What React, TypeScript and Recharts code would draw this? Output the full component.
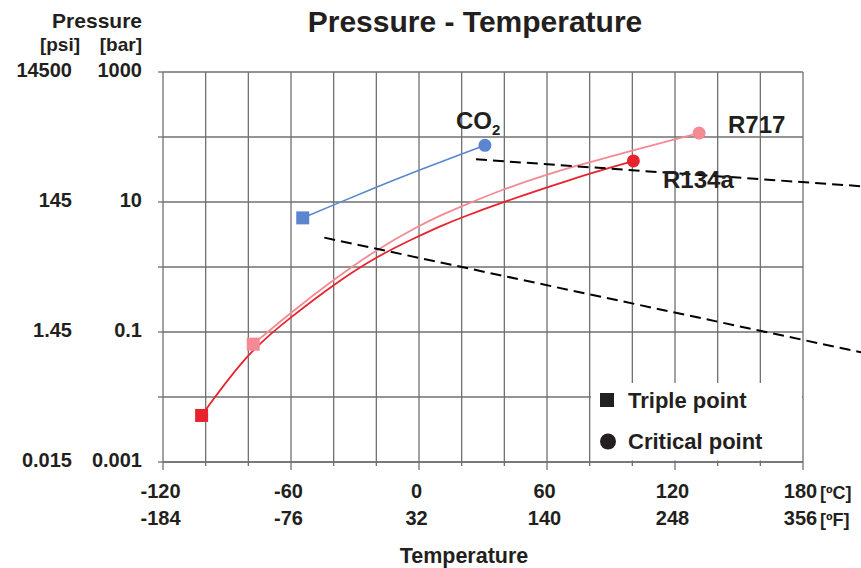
import React from "react";
import { LineChart, Line, XAxis, YAxis, CartesianGrid, ReferenceLine } from "recharts";

// Temperature ticks [°C] and matching [°F] labels
const xTicks = [-120, -100, -80, -60, -40, -20, 0, 20, 40, 60, 80, 100, 120, 140, 160, 180];
const xLabelC = ["-120", "-60", "0", "60", "120", "180"];
const xLabelF = ["-184", "-76", "32", "140", "248", "356"];
const xLabelAt = [-120, -60, 0, 60, 120, 180];

// Pressure ticks [bar] and matching [psi] labels
const yTicks = [0.001, 0.01, 0.1, 1, 10, 100, 1000];
const yLabelAt = [1000, 10, 0.1, 0.001];
const yLabelBar = ["1000", "10", "0.1", "0.001"];
const yLabelPsi = ["14500", "145", "1.45", "0.015"];

// CO2 saturation curve
const co2Temp = [-54.5, -40, -20, 0, 20, 30.9];
const co2Pres = [5.7, 9.0, 17, 31, 55, 74.5];

// R717 saturation curve
const r717Temp = [-77.7, -60, -40, -20, 0, 10, 20, 40, 60, 72, 80, 100, 120, 131.3];
const r717Pres = [0.065, 0.2, 0.64, 1.85, 4.3, 6.2, 8.6, 16, 26.5, 34.5, 41, 62, 92, 115];

// R134a saturation curve
const r134aTemp = [-101.9, -80, -60, -40, -20, 0, 10, 20, 40, 60, 72, 80, 100.5];
const r134aPres = [0.0052, 0.05, 0.17, 0.54, 1.45, 3.0, 4.25, 5.8, 10.1, 16.8, 22.5, 27.5, 42.8];

// dashed guide lines
const guideUpperT = [26.7, 207.2];
const guideUpperP = [45.4, 17.5];
const guideLowerT = [-44.4, 207.2];
const guideLowerP = [2.83, 0.0487];

const zip = (ts: number[], ps: number[]) => ts.map((t, i) => ({ t, p: ps[i] }));
const co2Data = zip(co2Temp, co2Pres);
const r717Data = zip(r717Temp, r717Pres);
const r134aData = zip(r134aTemp, r134aPres);

const FONT = '"Liberation Sans", Arial, Helvetica, sans-serif';
const INK = "#231f20";
const GRID = "#707070";

const CO2_COLOR = "#5b86cf";
const R717_COLOR = "#f48a94";
const R134A_COLOR = "#e8232d";

const makeDot = (color: string, n: number) => (props: any) => {
  const { cx, cy, index } = props;
  if (index === 0) {
    return <rect key={`d${index}`} x={cx - 6.5} y={cy - 6.5} width={13} height={13} fill={color} />;
  }
  if (index === n - 1) {
    return <circle key={`d${index}`} cx={cx} cy={cy} r={6.5} fill={color} />;
  }
  return <g key={`d${index}`} />;
};

const XTick = (props: any) => {
  const { x, y, payload } = props;
  const v = payload.value;
  const idx = xLabelAt.indexOf(v);
  const major = idx >= 0;
  return (
    <g>
      <line x1={x} x2={x} y1={y} y2={y + (major ? 8 : 4)} stroke={GRID} strokeWidth={1.3} />
      {major && (
        <>
          <text x={x - 2.5} y={y + 35.5} textAnchor="middle" fontFamily={FONT} fontWeight="bold" fontSize={20} fill={INK}>
            {xLabelC[idx]}
          </text>
          <text x={x - 2.5} y={y + 62.5} textAnchor="middle" fontFamily={FONT} fontWeight="bold" fontSize={20} fill={INK}>
            {xLabelF[idx]}
          </text>
        </>
      )}
    </g>
  );
};

const YTick = (props: any) => {
  const { x, y, payload } = props;
  const idx = yLabelAt.indexOf(payload.value);
  if (idx < 0) return <g />;
  return (
    <g>
      <text x={x - 16} y={y + 5} textAnchor="end" fontFamily={FONT} fontWeight="bold" fontSize={20} fill={INK}>
        {yLabelBar[idx]}
      </text>
      <text x={x - 86} y={y + 5} textAnchor="end" fontFamily={FONT} fontWeight="bold" fontSize={20} fill={INK}>
        {yLabelPsi[idx]}
      </text>
    </g>
  );
};

export default function App() {
  return (
    <div style={{ position: "absolute", left: 0, top: 0, width: 861, height: 568, background: "#fff" }}>
      <LineChart width={861} height={568} margin={{ top: 72, right: 58, bottom: 0, left: 0 }}>
        <CartesianGrid stroke={GRID} strokeWidth={1.3} />
        <XAxis
          type="number"
          dataKey="t"
          domain={[-120, 180]}
          ticks={xTicks}
          interval={0}
          allowDataOverflow
          tickSize={0}
          tickMargin={0}
          tickLine={false}
          axisLine={{ stroke: GRID, strokeWidth: 1.3 }}
          height={106}
          tick={<XTick />}
        />
        <YAxis
          type="number"
          scale="log"
          domain={[0.001, 1000]}
          ticks={yTicks}
          interval={0}
          allowDataOverflow
          width={163}
          tickSize={5}
          tickMargin={0}
          tickLine={{ stroke: GRID, strokeWidth: 1.3 }}
          axisLine={false}
          tick={<YTick />}
        />
        <Line
          data={co2Data}
          dataKey="p"
          type="basis"
          stroke={CO2_COLOR}
          strokeWidth={1.6}
          dot={makeDot(CO2_COLOR, co2Data.length)}
          isAnimationActive={false}
        />
        <Line
          data={r717Data}
          dataKey="p"
          type="basis"
          stroke={R717_COLOR}
          strokeWidth={1.8}
          dot={makeDot(R717_COLOR, r717Data.length)}
          isAnimationActive={false}
        />
        <Line
          data={r134aData}
          dataKey="p"
          type="basis"
          stroke={R134A_COLOR}
          strokeWidth={1.8}
          dot={makeDot(R134A_COLOR, r134aData.length)}
          isAnimationActive={false}
        />
        <ReferenceLine
          segment={[
            { x: guideUpperT[0], y: guideUpperP[0] },
            { x: guideUpperT[1], y: guideUpperP[1] },
          ]}
          ifOverflow="visible"
          stroke="#000"
          strokeWidth={2}
          strokeDasharray="11 6"
        />
        <ReferenceLine
          segment={[
            { x: guideLowerT[0], y: guideLowerP[0] },
            { x: guideLowerT[1], y: guideLowerP[1] },
          ]}
          ifOverflow="visible"
          stroke="#000"
          strokeWidth={2}
          strokeDasharray="11 6"
        />
      </LineChart>
      <svg
        width={861}
        height={568}
        style={{ position: "absolute", left: 0, top: 0, pointerEvents: "none" }}
        fontFamily={FONT}
        fontWeight="bold"
        fill={INK}
      >
        <text x={475} y={32} textAnchor="middle" fontSize={30}>Pressure - Temperature</text>
        <text x={142} y={28} textAnchor="end" fontSize={21}>Pressure</text>
        <text x={80} y={51} textAnchor="end" fontSize={19}>[psi]</text>
        <text x={142} y={51} textAnchor="end" fontSize={19}>[bar]</text>
        <text x={820} y={499} fontSize={18}>[ºC]</text>
        <text x={820} y={526} fontSize={18}>[ºF]</text>
        <text x={464} y={563} textAnchor="middle" fontSize={21.5}>Temperature</text>

        <text x={456} y={129} fontSize={24}>
          CO<tspan fontSize={15} dy={6}>2</tspan>
        </text>
        <text x={728} y={133} fontSize={24}>R717</text>
        <text x={663} y={188} fontSize={24}>R134a</text>

        <rect x={591} y={383} width={211} height={77.5} fill="#fff" />
        <rect x={600} y={393} width={14} height={14} fill={INK} />
        <text x={628} y={407.5} fontSize={22}>Triple point</text>
        <circle cx={608} cy={441.5} r={8} fill={INK} />
        <text x={628} y={449} fontSize={22}>Critical point</text>
      </svg>
    </div>
  );
}
